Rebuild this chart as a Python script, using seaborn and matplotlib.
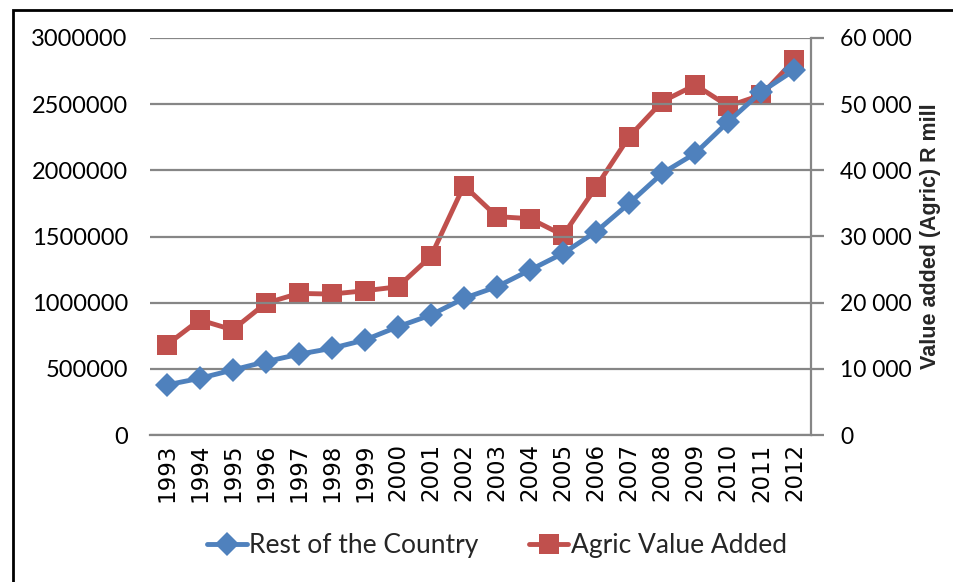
import numpy as np
import pandas as pd
import matplotlib
matplotlib.use("Agg")
import matplotlib.pyplot as plt
from matplotlib.patches import Rectangle
from matplotlib.ticker import FuncFormatter
import seaborn as sns

years = [str(y) for y in range(1993, 2013)]
rest_of_country = [378000, 428000, 491000, 554000, 610000, 655000, 718000, 818000, 907000, 1033000,
                   1121000, 1247000, 1373000, 1537000, 1751000, 1978000, 2129000, 2368000, 2594000, 2758000]
agric_value_added = [13600, 17400, 15900, 19900, 21400, 21300, 21800, 22400, 27000, 37700,
                     33000, 32700, 30200, 37500, 45100, 50400, 52900, 49700, 51400, 56700]

df = pd.DataFrame({"pos": np.arange(len(years)), "year": years,
                   "rest": rest_of_country, "agric": agric_value_added})

sns.set_style("white")
plt.rcParams["font.family"] = ["Lato", "DejaVu Sans"]

blue = "#4F81BD"
red = "#C0504D"
grid = "#868686"

fig = plt.figure(figsize=(9.54, 5.82), dpi=100)
ax = fig.add_axes([150 / 954, 1 - 435 / 582, (811 - 150) / 954, (435 - 38) / 582])
ax2 = ax.twinx()

sns.lineplot(data=df, x="pos", y="rest", ax=ax, color=blue, lw=3.5, marker="D",
             markersize=12, markeredgewidth=0, label="Rest of the Country", legend=False)
sns.lineplot(data=df, x="pos", y="agric", ax=ax2, color=red, lw=3.5, marker="s",
             markersize=15, markeredgewidth=0, label="Agric Value Added", legend=False)
ax.set_zorder(ax2.get_zorder() + 1)
ax.patch.set_visible(False)

ax.set_xlim(-0.5, len(years) - 0.5)
ax.set_ylim(0, 3000000)
ax2.set_ylim(0, 60000)
ax.set_yticks(np.arange(0, 3000001, 500000))
ax2.set_yticks(np.arange(0, 60001, 10000))
ax.set_xticks(df["pos"])
ax.set_xticklabels(years, rotation=90, family="DejaVu Sans", fontsize=16.5)
ax.yaxis.set_major_formatter(FuncFormatter(lambda v, p: f"{int(v)}"))
ax2.yaxis.set_major_formatter(FuncFormatter(lambda v, p: f"{int(v):,}".replace(",", " ")))

ax.grid(False)
ax2.grid(False)
ax.yaxis.grid(True, color=grid, lw=1.6)
ax.set_axisbelow(True)
for a in (ax, ax2):
    for s in a.spines.values():
        s.set_visible(False)
ax2.spines["right"].set_visible(True)
ax2.spines["right"].set_color(grid)
ax2.spines["right"].set_linewidth(1.6)
ax.spines["bottom"].set_visible(True)
ax.spines["bottom"].set_color(grid)
ax.spines["bottom"].set_linewidth(1.6)

ax.tick_params(axis="y", length=0, pad=16, labelsize=17, colors="black")
ax.tick_params(axis="x", length=0, pad=6, colors="black")
ax2.tick_params(axis="y", length=9, width=1.6, color=grid, pad=12, labelsize=16.5, labelcolor="black")
ax.set_xlabel("")
ax.set_ylabel("")
ax2.set_ylabel("Value added (Agric) R mill", family="Liberation Sans", fontweight="bold",
               fontsize=15.5, labelpad=6)

h1, l1 = ax.get_legend_handles_labels()
h2, l2 = ax2.get_legend_handles_labels()
fig.legend(h1 + h2, l1 + l2, loc="center", bbox_to_anchor=(497 / 954, 1 - 546 / 582),
           ncol=2, frameon=False, fontsize=19, handlelength=1.5, columnspacing=1.9,
           handletextpad=0.1)

fig.add_artist(Rectangle((13 / 954, -0.1), 1.2, 1.1 - 10 / 582, transform=fig.transFigure,
                         fill=False, lw=2, edgecolor="black", clip_on=False))

fig.savefig("out.png", dpi=100)
